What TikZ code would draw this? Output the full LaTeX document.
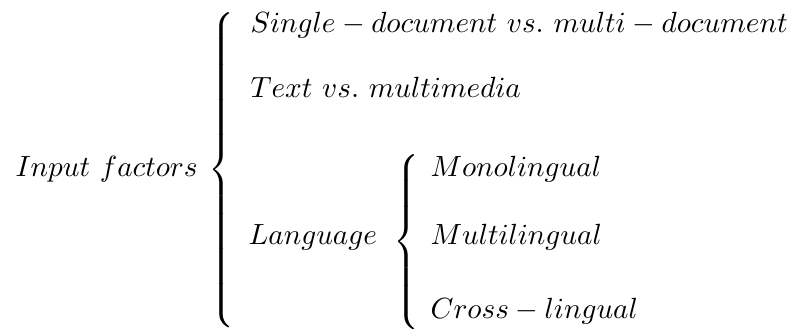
\documentclass[tikz,border=0pt]{standalone}
\begin{document}
\begin{tikzpicture}[x=0.3425pt,y=-0.3425pt,
  lbl/.style={anchor=base west,inner sep=0pt,font=\normalsize},
  bracenode/.style={anchor=west,inner sep=0pt}]
\useasboundingbox (0,0) rectangle (788,328);
\newcommand{\bigbrace}[1]{$\delimiterfactor=1000\delimitershortfall=0pt\left\{\vcenter{\hbox{\vrule height #1 width 0pt}}\right.$}
\node[lbl] (input) at (15,176) {$Input\ factors$};
\node[bracenode] (b1) at (208,170) {\bigbrace{104pt}};
\node[lbl] (single) at (250,32) {$Single-document\ vs.\ multi-document$};
\node[lbl] (text) at (250,97) {$Text\ vs.\ multimedia$};
\node[lbl] (lang) at (248,244) {$Language$};
\node[bracenode] (b2) at (393,242) {\bigbrace{56pt}};
\node[lbl] (mono) at (430,176) {$Monolingual$};
\node[lbl] (multi) at (430,244) {$Multilingual$};
\node[lbl] (cross) at (430,318) {$Cross-lingual$};
\end{tikzpicture}
\end{document}
